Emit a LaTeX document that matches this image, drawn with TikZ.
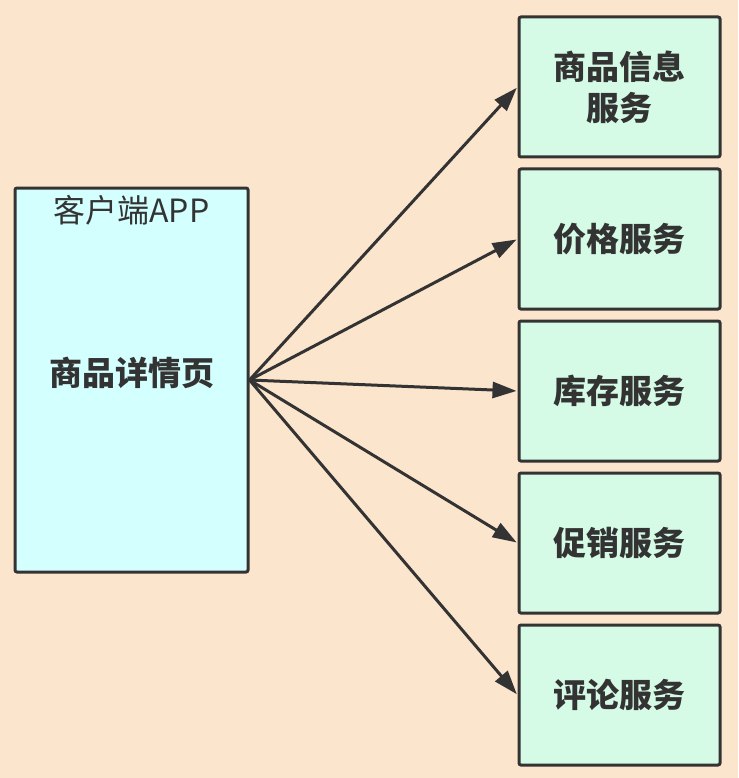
\documentclass[tikz,border=0pt]{standalone}
\usepackage{fontspec}
\setmainfont{Noto Sans CJK SC}
\usepackage{xcolor}
\usetikzlibrary{positioning}
\usetikzlibrary{arrows.meta}
\definecolor{peach}{HTML}{FCE5CD}
\definecolor{clientfill}{HTML}{D4FFFF}
\definecolor{svcfill}{HTML}{D5FBE6}
\definecolor{ink}{HTML}{333333}
\tikzset{
  client/.style={draw=ink,fill=clientfill,line width=3pt,rounded corners=2pt,
    minimum width=233pt,minimum height=384pt,inner sep=0pt},
  service/.style={draw=ink,fill=svcfill,line width=3pt,rounded corners=2pt,
    minimum width=201pt,minimum height=140pt,inner sep=0pt,align=center,
    font=\fontsize{33}{41}\selectfont\bfseries,text=ink},
}
\begin{document}
\begin{tikzpicture}[x=1pt,y=-1pt,shorten >=1pt,node distance=152pt,on grid,
    >={Triangle[length=24pt,width=16pt]}]
   \useasboundingbox[fill=peach] (0,0) rectangle (738,778);
   \node[client] (app) at (131.5,380) {};
   \node[text=ink,font=\fontsize{32}{36}\selectfont] (title) at (131.5,210) {客户端APP};
   \node[text=ink,font=\fontsize{33}{40}\selectfont\bfseries] (page) at (131.5,373) {商品详情页};
   \node[service] (info) at (619.5,87) {商品信息\\服务};
   \node[service] (price) [below=of info] {价格服务};
   \node[service] (stock) [below=of price] {库存服务};
   \node[service] (promo) [below=of stock] {促销服务};
   \node[service] (review) [below=of promo] {评论服务};
   \draw[->,draw=ink,fill=ink,line width=3pt] (app.east) -- (info.west);
   \draw[->,draw=ink,fill=ink,line width=3pt] (app.east) -- (price.west);
   \draw[->,draw=ink,fill=ink,line width=3pt] (app.east) -- (stock.west);
   \draw[->,draw=ink,fill=ink,line width=3pt] (app.east) -- (promo.west);
   \draw[->,draw=ink,fill=ink,line width=3pt] (app.east) -- (review.west);
\end{tikzpicture}
\end{document}
